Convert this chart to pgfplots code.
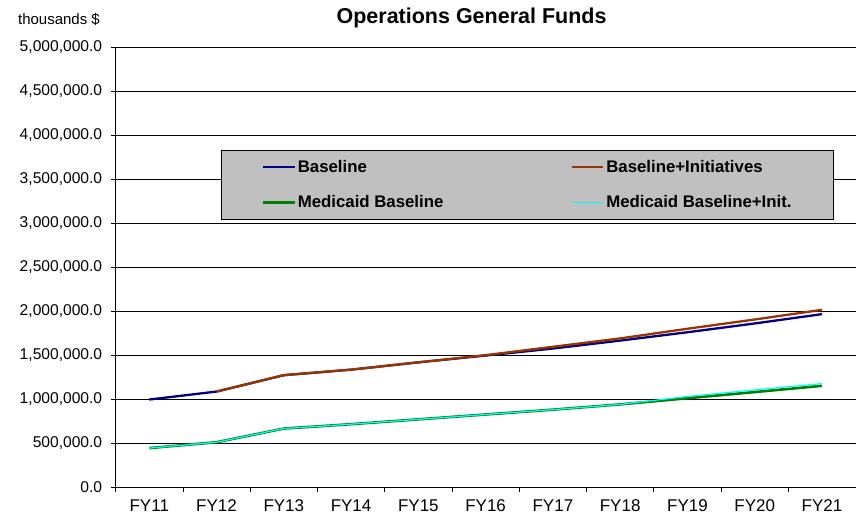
\documentclass[border=0pt]{standalone}
\usepackage{fontspec}
\setmainfont{Liberation Sans}
\usepackage{pgfplots}
\pgfplotsset{compat=1.18}

\definecolor{cBase}{RGB}{0,0,128}
\definecolor{cInit}{RGB}{153,51,0}
\definecolor{cMed}{RGB}{0,128,0}
\definecolor{cMedInit}{RGB}{0,255,255}
\definecolor{legfill}{RGB}{192,192,192}

\begin{document}
\begin{tikzpicture}
\begin{axis}[
  name=ax,
  scale only axis,
  width=740.3pt, height=440pt,
  xmin=-0.5, xmax=10.5,
  ymin=0, ymax=5000000,
  axis x line*=bottom, axis y line*=left,
  axis line style={-, black, line width=0.8pt},
  tick align=outside,
  major tick length=4.5pt,
  xtick={-0.5,0.5,...,9.5},
  xticklabels={FY11,FY12,FY13,FY14,FY15,FY16,FY17,FY18,FY19,FY20,FY21},
  xticklabel style={xshift=33.65pt, yshift=-5pt, font=\fontsize{17}{20}\selectfont},
  x tick style={black, line width=0.8pt},
  ytick={0,500000,...,5000000},
  y tick style={black, line width=0.8pt},
  yticklabel style={xshift=-5.5pt, font=\fontsize{15.6}{18}\selectfont},
  scaled y ticks=false,
  yticklabel={\pgfmathprintnumber[fixed, fixed zerofill, precision=1, 1000 sep={,}]{\tick}},
  /pgf/number format/assume math mode=true,
  ymajorgrids,
  grid style={black, line width=0.8pt},
  every axis title/.style={at={(axis description cs:0.481,1)}, anchor=base, yshift=23.6pt,
    font=\bfseries\fontsize{21.5}{25}\selectfont},
  title={Operations General Funds},
  legend columns=2,
  legend cell align=left,
  legend image code/.code={\draw[#1] (0pt,0pt) -- (31.7pt,0pt);},
  legend style={
    at={(axis description cs:0.1422,0.7666)}, anchor=north west,
    fill=legfill, draw=black, line width=0.8pt,
    font=\bfseries\fontsize{16.8}{20}\selectfont,
    inner xsep=40.3pt, inner ysep=9.7pt,
    nodes={inner sep=2pt, text height=10.6pt, text depth=0pt},
    row sep=20.4pt,
    /tikz/every even column/.append style={column sep=125pt},
  },
]
% Baseline
\addplot[cBase, line width=2.3pt] coordinates {
  (0,995000) (1,1086000) (2,1272000) (3,1335000) (4,1418000) (5,1495000)
  (6,1575000) (7,1665000) (8,1760000) (9,1860000) (10,1966000)};
\addlegendentry{Baseline}
% Baseline plus initiatives (from FY12 on)
\addplot[cInit, line width=2.3pt] coordinates {
  (1,1086000) (2,1272000) (3,1335000) (4,1418000) (5,1500000)
  (6,1595000) (7,1690000) (8,1800000) (9,1905000) (10,2015000)};
\addlegendentry{Baseline+Initiatives}
% Medicaid baseline
\addplot[cMed, line width=2.6pt] coordinates {
  (0,443000) (1,510000) (2,665000) (3,715000) (4,770000) (5,825000)
  (6,880000) (7,940000) (8,1010000) (9,1080000) (10,1151000)};
\addlegendentry{Medicaid Baseline}
% Medicaid baseline plus initiatives
\addplot[cMedInit, line width=1.2pt] coordinates {
  (0,443000) (1,510000) (2,665000) (3,715000) (4,770000) (5,825000)
  (6,880000) (7,940000) (8,1030000) (9,1105000) (10,1177000)};
\addlegendentry{Medicaid Baseline+Init.}
\end{axis}
\node[anchor=base west, font=\fontsize{15}{18}\selectfont, inner sep=0pt]
  at ([xshift=-97.8pt, yshift=22.3pt]ax.north west) {thousands \$};
\path[use as bounding box] ([xshift=-115.7pt,yshift=-30.7pt]ax.south west) rectangle ++(856pt,518pt);
\end{tikzpicture}
\end{document}
